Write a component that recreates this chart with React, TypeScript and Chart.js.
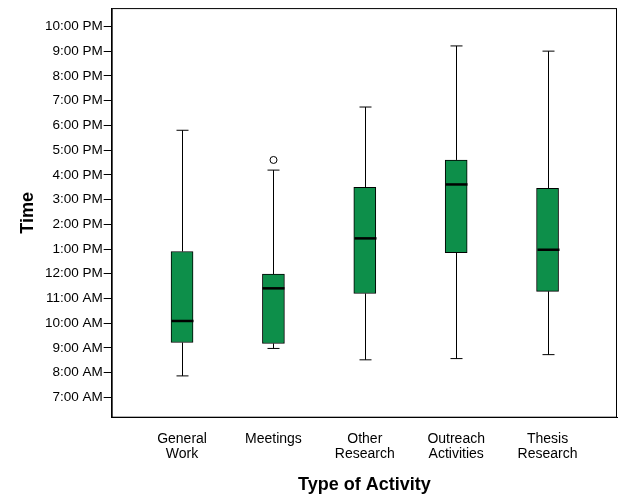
import React, { useEffect, useRef } from "react";
import { Chart, registerables } from "chart.js";
Chart.register(...registerables);

const categories = [["General", "Work"], ["Meetings"], ["Other", "Research"], ["Outreach", "Activities"], ["Thesis", "Research"]];
const mins = [7.87, 8.98, 8.52, 8.57, 8.73];
const q1s = [9.22, 9.18, 11.2, 12.85, 11.29];
const medians = [10.09, 11.41, 13.43, 15.61, 12.97];
const q3s = [12.9, 11.99, 15.49, 16.6, 15.45];
const maxs = [17.8, 16.19, 18.74, 21.21, 21.0];
const outliers: number[][] = [[], [16.6], [], [], []];
const tickHours = [7, 8, 9, 10, 11, 12, 13, 14, 15, 16, 17, 18, 19, 20, 21, 22];

function fmt(h: number) {
  const ap = h >= 12 ? "PM" : "AM";
  let hh = h % 12;
  if (hh === 0) hh = 12;
  return `${hh}:00 ${ap}`;
}

const boxPlugin = {
  id: "boxes",
  afterDatasetsDraw(chart: any) {
    const ctx = chart.ctx;
    const y = chart.scales.y;
    const meta = chart.getDatasetMeta(0);
    ctx.save();
    ctx.strokeStyle = "#000";
    meta.data.forEach((bar: any, i: number) => {
      const cx = Math.round(bar.x) + 0.5;
      const hw = 11;
      const cap = 6;
      ctx.lineWidth = 1;
      ctx.beginPath();
      ctx.moveTo(cx, y.getPixelForValue(q3s[i]));
      ctx.lineTo(cx, y.getPixelForValue(maxs[i]));
      ctx.moveTo(cx - cap, y.getPixelForValue(maxs[i]));
      ctx.lineTo(cx + cap, y.getPixelForValue(maxs[i]));
      ctx.moveTo(cx, y.getPixelForValue(q1s[i]));
      ctx.lineTo(cx, y.getPixelForValue(mins[i]));
      ctx.moveTo(cx - cap, y.getPixelForValue(mins[i]));
      ctx.lineTo(cx + cap, y.getPixelForValue(mins[i]));
      ctx.stroke();
      ctx.lineWidth = 2.5;
      ctx.beginPath();
      ctx.moveTo(cx - hw, y.getPixelForValue(medians[i]));
      ctx.lineTo(cx + hw, y.getPixelForValue(medians[i]));
      ctx.stroke();
      ctx.lineWidth = 1;
      outliers[i].forEach((o) => {
        ctx.beginPath();
        ctx.arc(cx, y.getPixelForValue(o), 3.5, 0, Math.PI * 2);
        ctx.fillStyle = "#fff";
        ctx.fill();
        ctx.stroke();
      });
    });
    const a = chart.chartArea;
    ctx.lineWidth = 1;
    ctx.strokeRect(a.left + 0.5, a.top + 0.5, a.right - a.left - 1, a.bottom - a.top - 1);
    ctx.restore();
  },
};

export default function App() {
  const ref = useRef<HTMLCanvasElement>(null);
  useEffect(() => {
    document.body.style.margin = "0";
    const font = { family: "'Liberation Sans', Arial, sans-serif", size: 14, lineHeight: 1.05 };
    const chart = new Chart(ref.current!, {
      type: "bar",
      data: {
        datasets: [{
          data: q1s.map((q, i) => ({ x: i, y: [q, q3s[i]] })) as any,
          backgroundColor: "#0d8f4a",
          borderColor: "#000",
          borderWidth: 1,
          borderSkipped: false,
          barThickness: 22,
        }],
      },
      options: {
        animation: false,
        responsive: false,
        layout: { padding: { top: 8, right: 8, left: 15, bottom: 2 } },
        plugins: { legend: { display: false }, tooltip: { enabled: false } },
        scales: {
          x: {
            type: "linear",
            offset: false,
            min: -0.77,
            max: 4.76,
            afterBuildTicks: (s: any) => { s.ticks = [0, 1, 2, 3, 4].map((v) => ({ value: v })); },
            grid: { display: false, drawTicks: false },
            border: { color: "#000" },
            ticks: { color: "#000", font, padding: 14, autoSkip: false, maxRotation: 0, callback: (v: any) => categories[Number(v)] as any },
            title: { display: true, text: "Type of Activity", color: "#000", font: { ...font, size: 18, weight: "bold" }, padding: { top: 0 } },
          },
          y: {
            min: 6.18,
            max: 22.74,
            afterBuildTicks: (s: any) => { s.ticks = tickHours.map((v) => ({ value: v })); },
            grid: { display: true, drawOnChartArea: false, drawTicks: true, tickLength: 8, tickColor: "#000" } as any,
            border: { color: "#000" },
            ticks: { color: "#000", font: { ...font, size: 13.5 }, padding: 1, callback: (v: any) => fmt(Number(v)) },
            title: { display: true, text: "Time", color: "#000", font: { ...font, size: 18, weight: "bold" }, padding: { bottom: 6 } },
          },
        },
      },
      plugins: [boxPlugin],
    } as any);
    return () => chart.destroy();
  }, []);
  return <canvas ref={ref} width={625} height={500} style={{ display: "block" }} />;
}
